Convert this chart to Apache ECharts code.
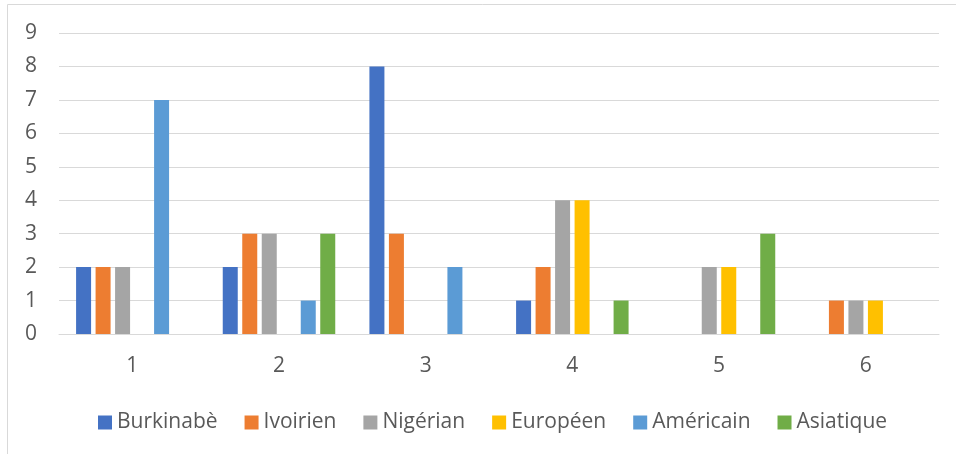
<!DOCTYPE html>
<html>
<head>
<meta charset="utf-8">
<script src="https://cdn.jsdelivr.net/npm/echarts@6/dist/echarts.min.js"></script>
<style>
  html, body { margin: 0; padding: 0; background: #fff; }
  #chart { width: 956px; height: 454px; }
</style>
</head>
<body>
<div id="chart"></div>
<script>
const categories = ["1", "2", "3", "4", "5", "6"]
const seriesNames = ["Burkinabè", "Ivoirien", "Nigérian", "Européen", "Américain", "Asiatique"]
const burkinabe = [2, 2, 8, 1, 0, 0]
const ivoirien = [2, 3, 3, 2, 0, 1]
const nigerian = [2, 3, 0, 4, 2, 1]
const europeen = [0, 0, 0, 4, 2, 1]
const americain = [7, 1, 2, 0, 0, 0]
const asiatique = [0, 3, 0, 1, 3, 0]
const colors = ["#4472C4", "#ED7D31", "#A5A5A5", "#FFC000", "#5B9BD5", "#70AD47"]

const values = [burkinabe, ivoirien, nigerian, europeen, americain, asiatique]
const font = "'Open Sans', 'Noto Sans', sans-serif"

const chart = echarts.init(document.getElementById("chart"))
chart.setOption({
  animation: false,
  color: colors,
  graphic: [{
    type: "rect",
    shape: { x: 7.5, y: 4.5, width: 1200, height: 1200 },
    style: { fill: "none", stroke: "#d9d9d9", lineWidth: 1 },
    silent: true
  }],
  grid: { left: 59, right: 17, top: 33, bottom: 120 },
  legend: {
    data: seriesNames,
    left: 98,
    top: 412,
    padding: 0,
    icon: "rect",
    itemWidth: 14,
    itemHeight: 14,
    itemGap: 27,
    textStyle: { fontFamily: font, fontSize: 21, color: "#595959" }
  },
  xAxis: {
    type: "category",
    data: categories,
    axisLine: { lineStyle: { color: "#d9d9d9", width: 1 } },
    axisTick: { show: false },
    axisLabel: { fontFamily: font, fontSize: 21, color: "#595959", margin: 22 }
  },
  yAxis: {
    type: "value",
    min: 0,
    max: 9,
    interval: 1,
    axisLine: { show: false },
    axisTick: { show: false },
    splitLine: { lineStyle: { color: "#d9d9d9", width: 1 } },
    axisLabel: { fontFamily: font, fontSize: 21, color: "#595959", margin: 22 }
  },
  series: seriesNames.map((name, i) => ({
    name: name,
    type: "bar",
    data: values[i],
    barWidth: 15,
    barGap: "30%",
    barCategoryGap: "24%"
  }))
})
</script>
</body>
</html>
